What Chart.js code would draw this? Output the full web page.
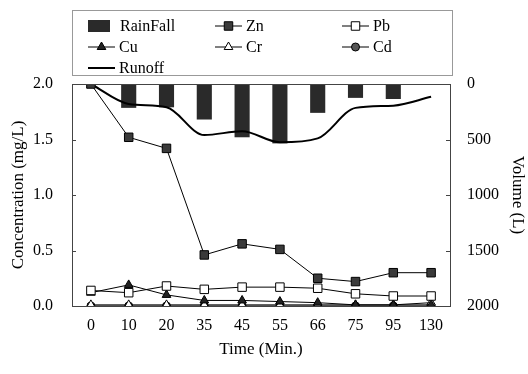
<!DOCTYPE html>
<html>
<head>
<meta charset="utf-8">
<script src="https://cdn.jsdelivr.net/npm/chart.js@4"></script>
<style>
  html, body { margin: 0; padding: 0; background: #fff; }
  #wrap { width: 528px; height: 374px; position: relative; }
</style>
</head>
<body>
<div id="wrap"><canvas id="chart" width="528" height="374"></canvas></div>
<script>
// time labels (min)
const times = ['0', '10', '20', '35', '45', '55', '66', '75', '95', '130'];

// concentrations (mg/L)
const zn = [2.0, 1.52, 1.42, 0.46, 0.56, 0.51, 0.25, 0.22, 0.30, 0.30];
const pb = [0.14, 0.12, 0.18, 0.15, 0.17, 0.17, 0.16, 0.11, 0.09, 0.09];
const cu = [0.12, 0.19, 0.10, 0.05, 0.05, 0.04, 0.03, 0.01, 0.01, 0.01];
const cr = [0.01, 0.01, 0.01, 0.01, 0.01, 0.01, 0.01, 0.01, 0.01, 0.03];
const cd = [0.0, 0.0, 0.0, 0.0, 0.0, 0.0, 0.0, 0.0, 0.0, 0.0];

// volumes (L), right axis reversed
const rainfall = [0, 215, 210, 320, 480, 535, 260, 125, 135, 0];
const runoff = [0, 180, 210, 460, 425, 525, 490, 215, 195, 115];

const serif = '"Liberation Serif", "Times New Roman", serif';

// frame around the plot area + small inward ticks
const framePlugin = {
    id: 'frame',
    afterDraw(chart) {
        const a = chart.chartArea;
        const ctx = chart.ctx;
        ctx.save();
        ctx.strokeStyle = '#444';
        ctx.lineWidth = 1;
        ctx.strokeRect(a.left + 0.5, a.top + 0.5, a.right - a.left, a.bottom - a.top);
        ctx.beginPath();
        chart.scales.y.ticks.forEach(t => {
            const py = Math.round(chart.scales.y.getPixelForValue(t.value)) + 0.5;
            ctx.moveTo(a.left, py);
            ctx.lineTo(a.left + 4, py);
        });
        chart.scales.y2.ticks.forEach(t => {
            const py = Math.round(chart.scales.y2.getPixelForValue(t.value)) + 0.5;
            ctx.moveTo(a.right, py);
            ctx.lineTo(a.right - 4, py);
        });
        ctx.stroke();
        ctx.restore();
    }
};

// legend drawn in a 3 column grid like the original
const legendPlugin = {
    id: 'gridLegend',
    afterDraw(chart) {
        const ctx = chart.ctx;
        ctx.save();
        ctx.strokeStyle = '#999';
        ctx.lineWidth = 1;
        ctx.strokeRect(72.5, 10.5, 380, 65);

        const cols = [88, 215, 342];
        const rows = [26, 47, 68];
        ctx.font = '16px ' + serif;
        ctx.textBaseline = 'middle';
        chart.data.datasets.forEach((ds, i) => {
            const x = cols[i % 3];
            const y = rows[Math.floor(i / 3)];
            if (ds.type === 'bar') {
                ctx.fillStyle = ds.backgroundColor;
                ctx.fillRect(x, y - 6, 22, 12);
                ctx.fillStyle = '#000';
                ctx.fillText(ds.label, x + 32, y + 1);
            } else {
                ctx.strokeStyle = '#000';
                ctx.lineWidth = ds.pointRadius ? 1 : 2;
                ctx.beginPath();
                ctx.moveTo(x, y);
                ctx.lineTo(x + 27, y);
                ctx.stroke();
                if (ds.pointRadius) {
                    ctx.fillStyle = ds.pointBackgroundColor;
                    ctx.strokeStyle = '#000';
                    ctx.lineWidth = 1;
                    Chart.helpers.drawPoint(ctx, {
                        pointStyle: ds.pointStyle,
                        radius: ds.pointRadius,
                        borderWidth: 1
                    }, x + 13.5, y);
                }
                ctx.fillStyle = '#000';
                ctx.fillText(ds.label, x + 31, y + 1);
            }
        });
        ctx.restore();
    }
};

function metal(label, data, style, radius, fill) {
    return {
        type: 'line',
        label: label,
        data: data,
        yAxisID: 'y',
        borderColor: '#000',
        borderWidth: 1,
        pointStyle: style,
        pointRadius: radius,
        pointBackgroundColor: fill,
        pointBorderColor: '#000',
        pointBorderWidth: 1,
        tension: 0,
        order: 1
    };
}

new Chart(document.getElementById('chart'), {
    data: {
        labels: times,
        datasets: [
            {
                type: 'bar',
                label: 'RainFall',
                data: rainfall,
                yAxisID: 'y2',
                backgroundColor: '#2a2a2a',
                barPercentage: 0.5,
                categoryPercentage: 0.8,
                order: 10
            },
            metal('Zn', zn, 'rect', 6, '#3a3a3a'),
            metal('Pb', pb, 'rect', 6, '#fff'),
            metal('Cu', cu, 'triangle', 5, '#222'),
            metal('Cr', cr, 'triangle', 5, '#fff'),
            metal('Cd', cd, 'circle', 4, '#555'),
            {
                type: 'line',
                label: 'Runoff',
                data: runoff,
                yAxisID: 'y2',
                borderColor: '#000',
                borderWidth: 2,
                pointRadius: 0,
                tension: 0.4,
                cubicInterpolationMode: 'monotone',
                order: 2
            }
        ]
    },
    options: {
        responsive: false,
        animation: false,
        layout: { padding: { top: 84, left: 0, right: 0, bottom: 0 } },
        plugins: {
            legend: { display: false },
            tooltip: { enabled: false }
        },
        scales: {
            x: {
                offset: true,
                afterFit: s => { s.height = 68; },
                grid: { display: false, drawTicks: false },
                border: { color: '#444' },
                ticks: { color: '#000', font: { family: serif, size: 16 }, padding: 10 },
                title: { display: true, text: 'Time (Min.)', color: '#000', font: { family: serif, size: 17 }, padding: { top: 0, bottom: 14 } }
            },
            y: {
                position: 'left',
                min: 0,
                max: 2,
                afterFit: s => { s.width = 72; },
                ticks: { stepSize: 0.5, color: '#000', font: { family: serif, size: 16 }, padding: 19,
                    callback: v => v.toFixed(1) },
                grid: { drawOnChartArea: false, drawTicks: false },
                border: { color: '#444' },
                title: { display: true, text: 'Concentration (mg/L)', color: '#000', font: { family: serif, size: 17 }, padding: { top: 8, bottom: 0 } }
            },
            y2: {
                position: 'right',
                reverse: true,
                min: 0,
                max: 2000,
                afterFit: s => { s.width = 78; },
                ticks: { stepSize: 500, color: '#000', font: { family: serif, size: 16 }, padding: 17,
                    callback: v => String(v) },
                grid: { drawOnChartArea: false, drawTicks: false },
                border: { color: '#444' },
                title: { display: true, text: 'Volume (L)', color: '#000', font: { family: serif, size: 17 }, padding: { top: 0, bottom: 0 } }
            }
        }
    },
    plugins: [framePlugin, legendPlugin]
});
</script>
</body>
</html>
